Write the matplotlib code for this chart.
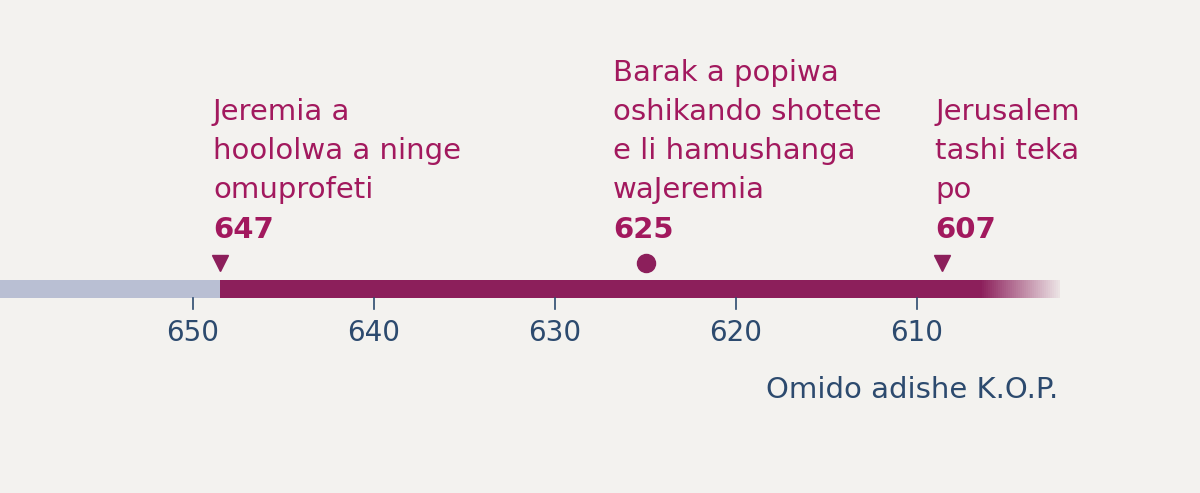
import matplotlib.pyplot as plt
import matplotlib.patches as mp
import numpy as np

ticks = [650, 640, 630, 620, 610]
events = [["Jeremia a", "hoololwa a ninge", "omuprofeti"],
          ["Barak a popiwa", "oshikando shotete", "e li hamushanga", "waJeremia"],
          ["Jerusalem", "tashi teka", "po"]]
years = ["647", "625", "607"]
marker_pos = [648.5, 625.0, 608.6]
markers = ["v", "o", "v"]
text_start = [648.9, 626.8, 609.0]
footnote = "Omido adishe K.O.P."

fig = plt.figure(figsize=(12, 4.93), dpi=100)
fig.patch.set_facecolor("#f3f2ef")
ax = fig.add_axes([0, 0, 1, 1])
ax.set_facecolor("#f3f2ef")
x0 = 650 + 193 / 18.1
x1 = 650 - 1007 / 18.1
ax.set_xlim(x0, x1)
ax.set_ylim(493, 0)
ax.axis("off")

pur = "#8c1f5b"
txt = "#a2195e"
navy = "#2c4a6e"
ax.add_patch(mp.Rectangle((x0, 280), 648.5 - x0, 18, color="#b9bfd3", lw=0))
ax.add_patch(mp.Rectangle((648.5, 280), 606.5 - 648.5, 18, color=pur, lw=0))
g = np.linspace(606.5, 602.1, 41)
for i in range(40):
    ax.add_patch(mp.Rectangle((g[i], 280), g[i + 1] - g[i], 18, color=pur,
                              alpha=1 - i / 40 * 0.95, lw=0))

for t in ticks:
    ax.plot([t, t], [298, 309], color=navy, lw=1.2)
    ax.text(t, 333, str(t), ha="center", va="center", color=navy, fontsize=20)

for lines, y, mp_, m, xs in zip(events, years, marker_pos, markers, text_start):
    n = len(lines)
    for j, l in enumerate(lines):
        yy = 190 - (n - 1 - j) * 39
        ax.text(xs, yy, l, ha="left", va="center", color=txt, fontsize=21)
    ax.text(xs, 230, y, ha="left", va="center", color=txt, fontsize=21, fontweight="bold")
    ax.plot(mp_, 263, marker=m, color=pur, ms=13 if m == "o" else 12, mec=pur)

ax.text(602.2, 390, footnote, ha="right", va="center", color=navy, fontsize=21)
fig.savefig("out.png", dpi=100, facecolor=fig.get_facecolor())
